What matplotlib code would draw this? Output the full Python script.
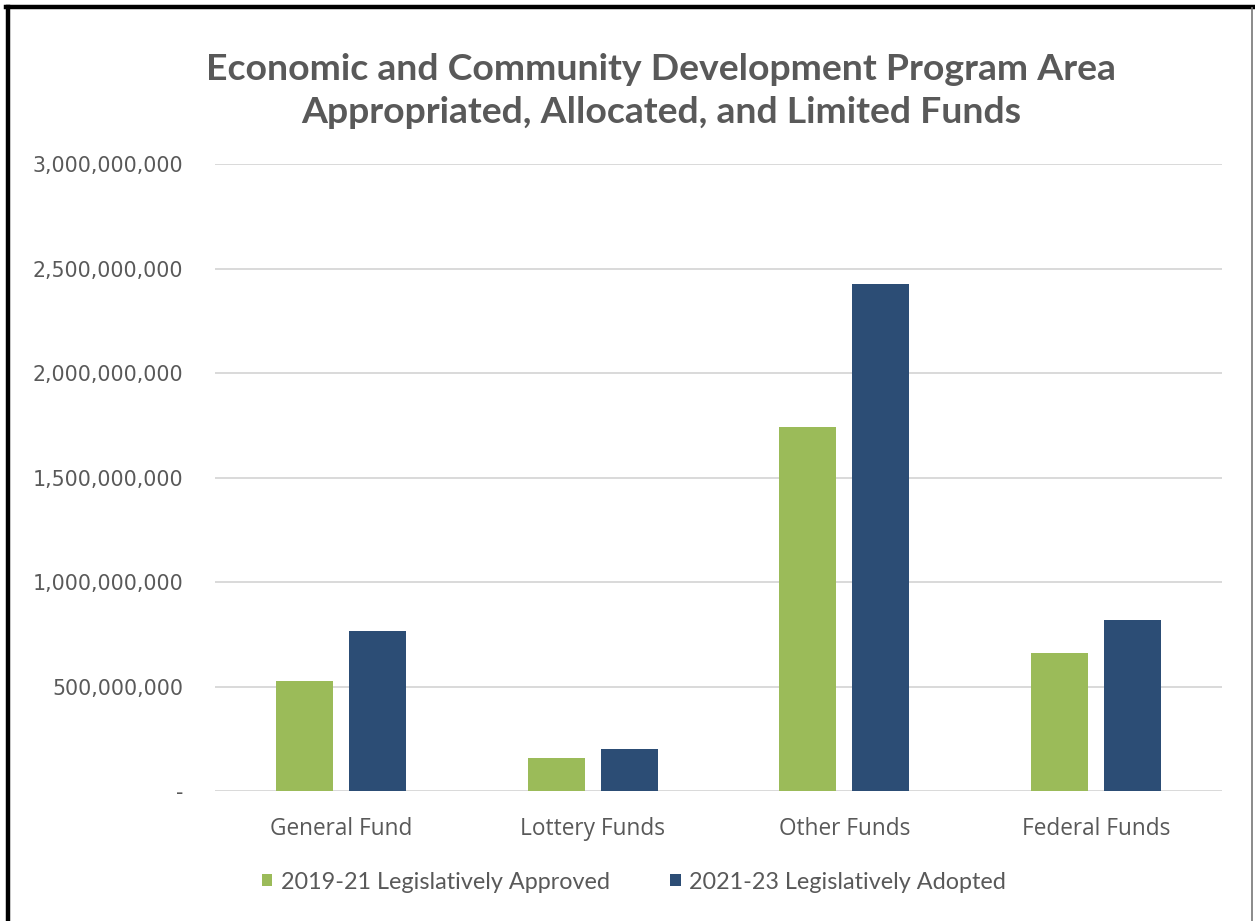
import numpy as np
import matplotlib
matplotlib.use("Agg")
import matplotlib.pyplot as plt
from matplotlib.patches import Patch
from matplotlib.ticker import FuncFormatter
from matplotlib.lines import Line2D

# Data
categories = ["General Fund", "Lottery Funds", "Other Funds", "Federal Funds"]
series_names = ["2019-21 Legislatively Approved", "2021-23 Legislatively Adopted"]
approved_2019_21 = [527_000_000, 159_000_000, 1_742_000_000, 660_000_000]
adopted_2021_23 = [766_000_000, 199_000_000, 2_424_000_000, 816_000_000]
y_ticks = [0, 500_000_000, 1_000_000_000, 1_500_000_000, 2_000_000_000, 2_500_000_000, 3_000_000_000]

GREEN = "#9BBB59"
NAVY = "#2C4D75"
TEXT = "#595959"
GRID = "#D9D9D9"

fig = plt.figure(figsize=(12.55, 9.21), dpi=100)
ax = fig.add_axes([215 / 1255, 1 - 791 / 921, (1222 - 215) / 1255, (791 - 164) / 921])

x = np.arange(len(categories))
width = 0.226
offset = 0.145
ax.bar(x - offset, approved_2019_21, width, color=GREEN, zorder=3)
ax.bar(x + offset, adopted_2021_23, width, color=NAVY, zorder=3)

ax.set_xlim(-0.5, len(categories) - 0.5)
ax.set_ylim(0, 3_000_000_000)
ax.set_yticks(y_ticks)
ax.yaxis.set_major_formatter(FuncFormatter(lambda v, p: "-" if v == 0 else f"{v:,.0f}"))
ax.grid(axis="y", color=GRID, linewidth=1.4, zorder=0)
for s in ax.spines.values():
    s.set_visible(False)
ax.tick_params(axis="y", length=0, pad=23, labelsize=14.8, labelcolor=TEXT)
ax.tick_params(axis="x", length=0, pad=19, labelcolor=TEXT)
ax.set_xticks(x)
ax.set_xticklabels(categories, fontsize=16.3, fontfamily="Open Sans")
for lab in ax.get_yticklabels():
    lab.set_fontfamily("DejaVu Sans")

fig.text(0.527, 1 - 91 / 921,
         "Economic and Community Development Program Area\nAppropriated, Allocated, and Limited Funds",
         ha="center", va="center", fontsize=26.9, fontweight="bold", color=TEXT,
         fontfamily="Lato", linespacing=1.35)

handles = [Patch(facecolor=GREEN, edgecolor="none"), Patch(facecolor=NAVY, edgecolor="none")]
fig.legend(handles, series_names, loc="center", bbox_to_anchor=(0.505, 1 - 882 / 921),
           ncol=2, frameon=False, handlelength=0.45, handleheight=0.45,
           handletextpad=0.35, columnspacing=2.6, prop={"family": "Lato", "size": 16.8},
           labelcolor=TEXT)

# frame lines around the figure
fig.add_artist(Line2D([7.5 / 1255, 7.5 / 1255], [0, 1 - 7.5 / 921], color="black", linewidth=3.2,
                      transform=fig.transFigure))
fig.add_artist(Line2D([6 / 1255, 1], [1 - 7.5 / 921, 1 - 7.5 / 921], color="black", linewidth=3.2,
                      transform=fig.transFigure))
fig.add_artist(Line2D([1252 / 1255, 1252 / 1255], [0, 1 - 8 / 921], color="#777777", linewidth=1.2,
                      transform=fig.transFigure))

fig.savefig("out.png", dpi=100, facecolor="white")
